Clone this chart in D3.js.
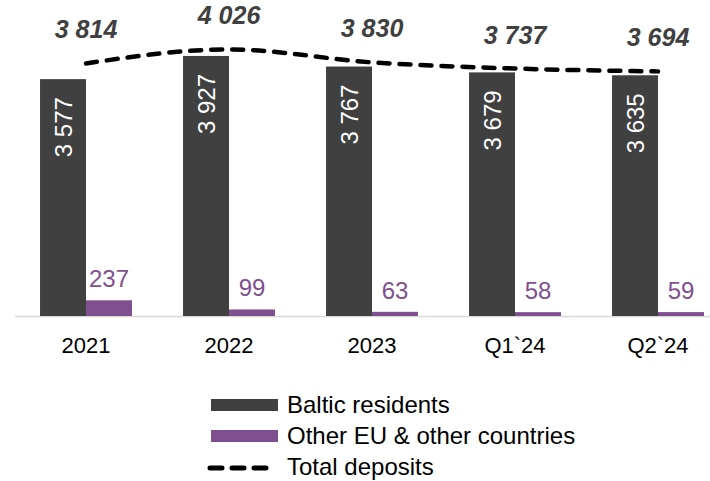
<!DOCTYPE html>
<html>
<head>
<meta charset="utf-8">
<script src="https://cdn.jsdelivr.net/npm/d3@7"></script>
<style>
  html, body { margin: 0; padding: 0; background: #fff; }
  svg { display: block; font-family: "Liberation Sans", Arial, sans-serif; }
</style>
</head>
<body>
<svg id="chart" width="710" height="481"></svg>
<script>
// Deposits by residency, EUR m
const categories = ["2021", "2022", "2023", "Q1`24", "Q2`24"];
const balticResidents = [3577, 3927, 3767, 3679, 3635];
const otherCountries = [237, 99, 63, 58, 59];
const totalDeposits = [3814, 4026, 3830, 3737, 3694];
const seriesNames = ["Baltic residents", "Other EU & other countries", "Total deposits"];

const colors = { baltic: "#404040", other: "#7f4f8f", total: "#000000" };
const fmt = v => d3.format(",")(v).replace(/,/g, " ");

const svg = d3.select("#chart");

const x = d3.scaleBand()
  .domain(categories)
  .range([14.5, 729.5])
  .paddingInner(0.357)
  .paddingOuter(0.1785);

const xSub = d3.scaleBand()
  .domain(["baltic", "other"])
  .range([0, x.bandwidth()]);

const y = d3.scaleLinear()
  .domain([0, 4500])
  .range([316, 18]);

const rows = categories.map((c, i) => ({
  cat: c,
  baltic: balticResidents[i],
  other: otherCountries[i],
  total: totalDeposits[i]
}));

// category axis baseline
svg.append("line")
  .attr("x1", 15).attr("x2", 710)
  .attr("y1", y(0) + 0.5).attr("y2", y(0) + 0.5)
  .attr("stroke", "#d9d9d9").attr("stroke-width", 1.5);

const groups = svg.append("g").selectAll("g")
  .data(rows).join("g")
  .attr("transform", d => `translate(${x(d.cat)},0)`);

// Baltic residents bars
groups.append("rect")
  .attr("x", xSub("baltic"))
  .attr("width", xSub.bandwidth())
  .attr("y", d => y(d.baltic))
  .attr("height", d => y(0) - y(d.baltic))
  .attr("fill", colors.baltic);

// Other EU bars
groups.append("rect")
  .attr("x", xSub("other"))
  .attr("width", xSub.bandwidth())
  .attr("y", d => y(d.other))
  .attr("height", d => y(0) - y(d.other))
  .attr("fill", colors.other);

// rotated labels inside Baltic bars
groups.append("text")
  .attr("transform", d => `translate(${xSub("baltic") + xSub.bandwidth() / 2},${y(d.baltic) + 18}) rotate(-90)`)
  .attr("text-anchor", "end")
  .attr("dy", "0.36em")
  .attr("fill", "#ffffff")
  .attr("font-size", 24)
  .text(d => fmt(d.baltic));

// labels above Other EU bars
groups.append("text")
  .attr("x", xSub("other") + xSub.bandwidth() / 2)
  .attr("y", d => y(d.other) - 13)
  .attr("text-anchor", "middle")
  .attr("fill", colors.other)
  .attr("font-size", 24)
  .text(d => fmt(d.other));

// total deposits line
const cx = d => x(d.cat) + x.bandwidth() / 2;
const line = d3.line()
  .x(cx)
  .y(d => y(d.total))
  .curve(d3.curveMonotoneX);

svg.append("path")
  .datum(rows)
  .attr("d", line)
  .attr("fill", "none")
  .attr("stroke", colors.total)
  .attr("stroke-width", 4.5)
  .attr("stroke-linecap", "round")
  .attr("stroke-dasharray", "11,10");

svg.append("g").selectAll("text")
  .data(rows).join("text")
  .attr("x", cx)
  .attr("y", d => y(d.total) - 25)
  .attr("text-anchor", "middle")
  .attr("fill", "#404040")
  .attr("font-size", 25)
  .attr("font-weight", "bold")
  .attr("font-style", "italic")
  .text(d => fmt(d.total));

// category labels
const xAxis = svg.append("g")
  .attr("transform", `translate(0,${y(0)})`)
  .call(d3.axisBottom(x).tickSize(0).tickPadding(0));
xAxis.select(".domain").remove();
xAxis.selectAll("text")
  .attr("dy", null)
  .attr("y", 37)
  .attr("font-size", 22)
  .attr("font-family", "Liberation Sans, Arial, sans-serif")
  .attr("fill", "#000");

// legend
const legend = svg.append("g");
const legendRows = [
  { name: seriesNames[0], type: "bar", color: colors.baltic },
  { name: seriesNames[1], type: "bar", color: colors.other },
  { name: seriesNames[2], type: "line", color: colors.total }
];
const lg = legend.selectAll("g").data(legendRows).join("g")
  .attr("transform", (d, i) => `translate(0,${413 + i * 31})`);
lg.filter(d => d.type === "bar").append("rect")
  .attr("x", 211).attr("y", -14).attr("width", 67).attr("height", 12)
  .attr("fill", d => d.color);
lg.filter(d => d.type === "line").append("line")
  .attr("x1", 210).attr("x2", 268).attr("y1", -7).attr("y2", -7)
  .attr("stroke", d => d.color)
  .attr("stroke-width", 5)
  .attr("stroke-linecap", "round")
  .attr("stroke-dasharray", "12,10");
lg.append("text")
  .attr("x", 287).attr("y", 0)
  .attr("font-size", 24)
  .attr("fill", "#000")
  .text(d => d.name);
</script>
</body>
</html>
